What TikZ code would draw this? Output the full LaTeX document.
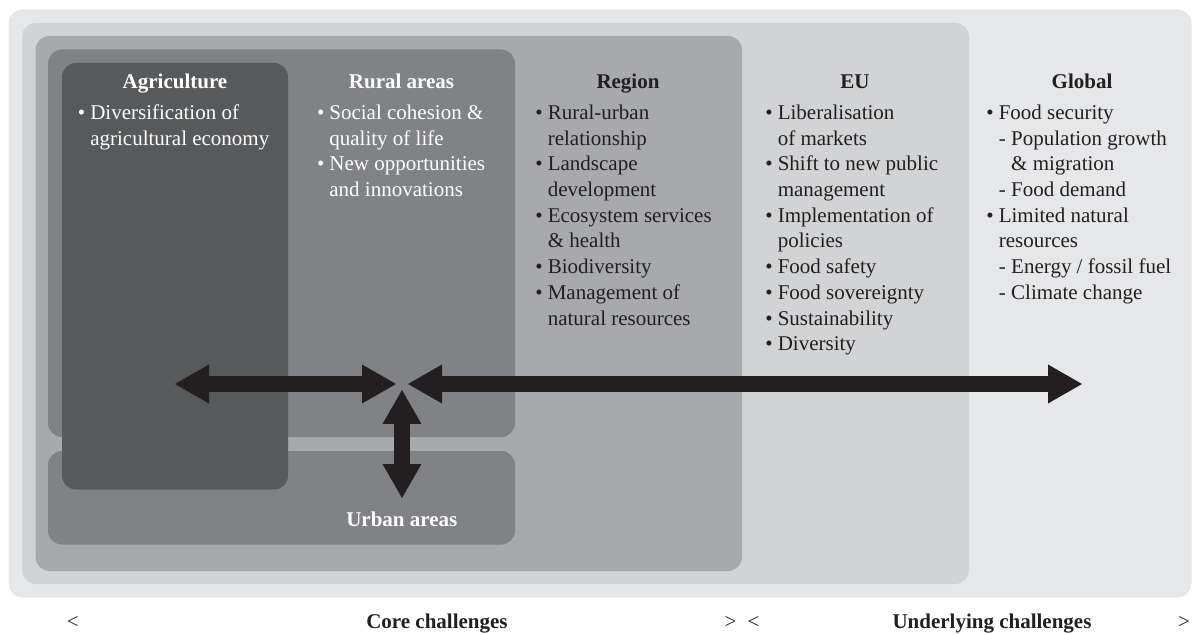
\documentclass[tikz,border=0pt]{standalone}
\usepackage{fontspec}
\setmainfont{Liberation Serif}
\usetikzlibrary{arrows.meta}
\definecolor{cglobal}{HTML}{E6E7E8}
\definecolor{ceu}{HTML}{D1D3D4}
\definecolor{cregion}{HTML}{A7A9AC}
\definecolor{crural}{HTML}{808285}
\definecolor{cagri}{HTML}{58595B}
\definecolor{cdark}{HTML}{231F20}
\newlength{\bw}\setlength{\bw}{6.2pt}
\newlength{\dw}\setlength{\dw}{6.2pt}
\newcommand{\bitem}[1]{\par\hangindent=\bw\hangafter=1\noindent\makebox[\bw][l]{\textbullet}#1}
\newcommand{\ditem}[1]{\par\hangindent=\dimexpr\bw+\dw\relax\hangafter=1\noindent\hspace*{\bw}\makebox[\dw][l]{-}#1}
\newcommand{\colbody}[1]{\parbox[t]{120pt}{\fontsize{10.5pt}{12.85pt}\selectfont\parindent=0pt\parskip=0pt #1}}
\tikzset{
  panel/.style={rounded corners=7pt},
  ttl/.style={font=\fontsize{10.5pt}{12.85pt}\selectfont\bfseries, anchor=base, inner sep=0pt},
  body/.style={anchor=base west, inner sep=0pt},
  foot/.style={font=\fontsize{10.5pt}{12.85pt}\selectfont, anchor=base, inner sep=0pt, text=cdark},
  bigarrow/.style={draw=cdark, line width=8pt,
    {Triangle[length=17pt,width=19.5pt,line width=0pt]}-{Triangle[length=17pt,width=19.5pt,line width=0pt]}},
}
\begin{document}
\begin{tikzpicture}[x=0.5pt,y=-0.5pt]
\useasboundingbox (0,0) rectangle (1192,635);
% panels
\fill[cglobal, panel] (8.5,9.5) rectangle (1191.5,597.5);
\fill[ceu, panel] (22,23) rectangle (969,584);
\fill[cregion, panel] (35.5,36) rectangle (742,571);
\fill[crural, panel] (48,49.5) rectangle (515,437);
\fill[crural, panel] (48,451) rectangle (515,544.5);
\fill[cagri, panel] (62,63) rectangle (288,489.5);
% titles
\node[ttl, text=white] (tagri) at (175,88.3) {Agriculture};
\node[ttl, text=white] (trural) at (401.5,88.3) {Rural areas};
\node[ttl, text=cdark] (tregion) at (628,88.3) {Region};
\node[ttl, text=cdark] (teu) at (855,88.3) {EU};
\node[ttl, text=cdark] (tglobal) at (1082,88.3) {Global};
\node[ttl, text=white] (turban) at (401.8,526.7) {Urban areas};
% bodies
\node[body, text=white] (bagri) at (77.5,119.5) {\colbody{%
  \bitem{Diversification of\newline agricultural economy}}};
\node[body, text=white] (brural) at (316.6,119.5) {\colbody{%
  \bitem{Social cohesion \&\newline quality of life}%
  \bitem{New opportunities\newline and innovations}}};
\node[body, text=cdark] (bregion) at (535,119.5) {\colbody{%
  \bitem{Rural-urban\newline relationship}%
  \bitem{Landscape\newline development}%
  \bitem{Ecosystem services\newline \& health}%
  \bitem{Biodiversity}%
  \bitem{Management of\newline natural resources}}};
\node[body, text=cdark] (beu) at (765,119.5) {\colbody{%
  \bitem{Liberalisation\newline of markets}%
  \bitem{Shift to new public\newline management}%
  \bitem{Implementation of\newline policies}%
  \bitem{Food safety}%
  \bitem{Food sovereignty}%
  \bitem{Sustainability}%
  \bitem{Diversity}}};
\node[body, text=cdark] (bglobal) at (986,119.5) {\colbody{%
  \bitem{Food security}%
  \ditem{Population growth\newline \& migration}%
  \ditem{Food demand}%
  \bitem{Limited natural\newline resources}%
  \ditem{Energy / fossil fuel}%
  \ditem{Climate change}}};
% arrows
\coordinate (agL) at (175,384);
\coordinate (hubW) at (396,384);
\coordinate (hubE) at (408,384);
\coordinate (globR) at (1082,384);
\coordinate (hubS) at (402,390);
\coordinate (urbT) at (402,498);
\draw[bigarrow] (agL) -- (hubW);
\draw[bigarrow] (hubE) -- (globR);
\draw[bigarrow] (hubS) -- (urbT);
% footer
\node[foot] (l1) at (72.8,628) {<};
\node[foot, font=\fontsize{10.5pt}{12.85pt}\selectfont\bfseries] (core) at (437,628) {Core challenges};
\node[foot] (r1) at (730.5,628) {>};
\node[foot] (l2) at (753.5,628) {<};
\node[foot, font=\fontsize{10.5pt}{12.85pt}\selectfont\bfseries] (under) at (992,628) {Underlying challenges};
\node[foot] (r2) at (1184,628) {>};
\end{tikzpicture}
\end{document}
